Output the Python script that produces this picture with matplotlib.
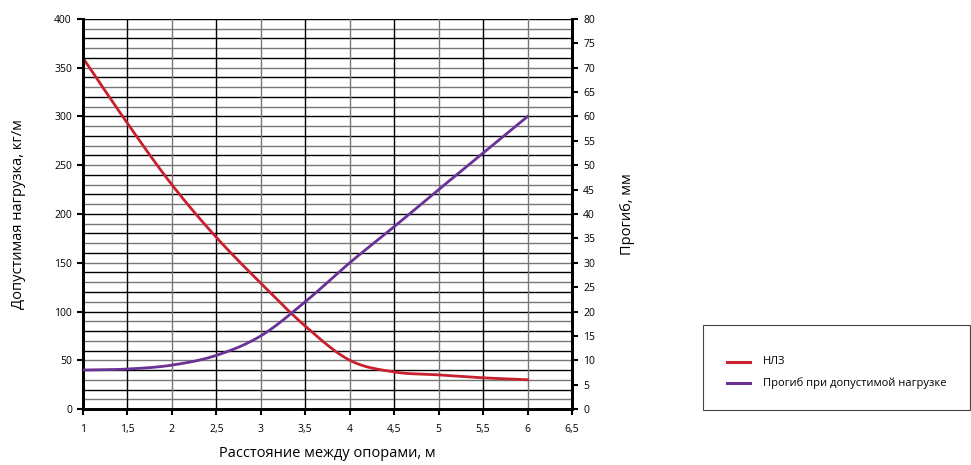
import numpy as np
import matplotlib
matplotlib.use("Agg")
import matplotlib.pyplot as plt
from matplotlib.lines import Line2D
from matplotlib.patches import Rectangle

plt.rcParams['font.family'] = ['Open Sans', 'DejaVu Sans']

span = [1, 1.5, 2, 2.5, 3, 3.5, 4, 4.5, 5, 5.5, 6]
load_nlz = [360, 293, 230, 176, 129, 85, 50, 38, 35, 32, 30]
deflection = [8, 8.2, 9, 11, 15, 22, 30, 37.4, 45, 52.5, 60]
x_ticks = [1, 1.5, 2, 2.5, 3, 3.5, 4, 4.5, 5, 5.5, 6, 6.5]
x_tick_labels = ["1", "1,5", "2", "2,5", "3", "3,5", "4", "4,5", "5", "5,5", "6", "6,5"]
series_names = ["НЛЗ", "Прогиб при допустимой нагрузке"]

red = "#c8202f"
purple = "#6a3296"

W, H = 971, 465


def smooth(x, y, n=20):
    x = np.asarray(x, float); y = np.asarray(y, float)
    px = np.concatenate([[2 * x[0] - x[1]], x, [2 * x[-1] - x[-2]]])
    py = np.concatenate([[2 * y[0] - y[1]], y, [2 * y[-1] - y[-2]]])
    xs, ys = [], []
    t = np.linspace(0, 1, n, endpoint=False)
    for i in range(1, len(px) - 2):
        p0, p1, p2, p3 = [np.array([px[j], py[j]]) for j in range(i - 1, i + 3)]
        tt = t[:, None]
        pts = 0.5 * ((2 * p1) + (-p0 + p2) * tt + (2 * p0 - 5 * p1 + 4 * p2 - p3) * tt ** 2
                     + (-p0 + 3 * p1 - 3 * p2 + p3) * tt ** 3)
        xs.extend(pts[:, 0]); ys.extend(pts[:, 1])
    xs.append(x[-1]); ys.append(y[-1])
    return np.array(xs), np.array(ys)


fig = plt.figure(figsize=(W / 100, H / 100), dpi=100)
ax = fig.add_axes([83 / W, 1 - 409 / H, (572 - 83) / W, (409 - 19) / H])
ax2 = ax.twinx()

ax.set_xlim(1, 6.5)
ax.set_ylim(0, 400)
ax2.set_ylim(0, 80)

# grid
for i, yv in enumerate(range(10, 401, 10)):
    ax.axhline(yv, color="black" if i % 2 else "#777777", lw=1.0, zorder=0)
for i, xv in enumerate(np.arange(1.5, 6.51, 0.5)):
    ax.axvline(xv, color="black" if i % 2 == 0 else "#777777", lw=1.0, zorder=0)

sx, sy = smooth(span, load_nlz)
ax.plot(sx, sy, color=red, lw=2.0, zorder=3)
sx2, sy2 = smooth(span, deflection)
ax2.plot(sx2, sy2, color=purple, lw=2.0, zorder=3)

for a in (ax, ax2):
    a.spines['top'].set_visible(False)
    for s in ('left', 'right', 'bottom'):
        a.spines[s].set_linewidth(2.0)
        a.spines[s].set_color("black")

ax.set_xticks(x_ticks)
ax.set_xticklabels(x_tick_labels)
ax.set_yticks(range(0, 401, 50))
ax2.set_yticks(range(0, 81, 5))
ax.tick_params(axis='both', labelsize=7.5, colors="black", width=1.5, length=4, direction='out', pad=4)
ax2.tick_params(axis='y', labelsize=7.5, colors="black", width=1.5, length=4, direction='out', pad=4)
ax.tick_params(axis='x', pad=7)

ax.set_xlabel("Расстояние между опорами, м", fontsize=10.5, labelpad=8)
ax.set_ylabel("Допустимая нагрузка, кг/м", fontsize=10.5, labelpad=20)
ax2.set_ylabel("Прогиб, мм", fontsize=10.5, labelpad=18)

# legend box
fig.add_artist(Rectangle((703 / W, 1 - 410 / H), 267 / W, 85 / H, transform=fig.transFigure,
                         facecolor="white", edgecolor="#444444", lw=0.8))
for k, (c, name) in enumerate(zip([red, purple], series_names)):
    yy = 1 - (362 + 21 * k) / H
    fig.add_artist(Line2D([727 / W, 750 / W], [yy, yy], transform=fig.transFigure, color=c, lw=2.2))
    fig.text(763 / W, yy, name, fontsize=8, va='center', ha='left')

fig.savefig("out.png", dpi=100)
